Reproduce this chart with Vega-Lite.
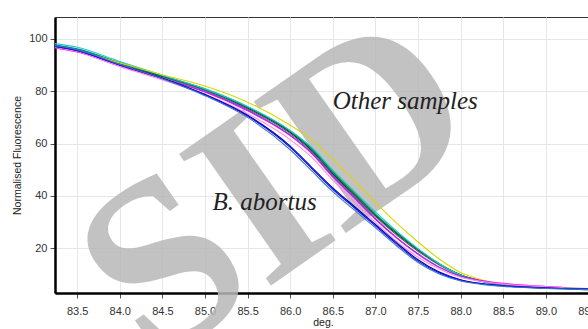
{
  "$schema": "https://vega.github.io/schema/vega-lite/v6.json",
  "width": 536,
  "height": 276,
  "autosize": {"type": "none"},
  "padding": {"left": 55, "top": 17, "right": 10, "bottom": 36},
  "background": "white",
  "config": {
    "view": {"stroke": "#333333", "strokeWidth": 1},
    "axis": {
      "labelFont": "Liberation Sans",
      "titleFont": "Liberation Sans",
      "labelFontSize": 11,
      "titleFontSize": 10.5,
      "titleFontWeight": "normal",
      "labelColor": "#333333",
      "titleColor": "#222222",
      "gridColor": "#e6e6e6",
      "gridWidth": 1,
      "tickColor": "#555555",
      "tickSize": 5,
      "domainColor": "#000000",
      "domainWidth": 2.5
    }
  },
  "datasets": {
    "curves": [
      {"s":"black","x":83.24,"y":97.3},{"s":"black","x":83.5,"y":95.8},{"s":"black","x":84.0,"y":90.6},{"s":"black","x":84.5,"y":85.6},{"s":"black","x":85.0,"y":80.6},{"s":"black","x":85.5,"y":73.6},{"s":"black","x":86.0,"y":64.3},{"s":"black","x":86.25,"y":57.5},{"s":"black","x":86.5,"y":48.5},{"s":"black","x":86.75,"y":40.5},{"s":"black","x":87.0,"y":32.5},{"s":"black","x":87.25,"y":25.5},{"s":"black","x":87.5,"y":19.2},{"s":"black","x":87.75,"y":13.8},{"s":"black","x":88.0,"y":9.7},{"s":"black","x":88.25,"y":7.4},{"s":"black","x":88.5,"y":6.0},{"s":"black","x":89.0,"y":4.9},{"s":"black","x":89.5,"y":4.4},
      {"s":"gray","x":83.24,"y":97.1},{"s":"gray","x":83.5,"y":95.6},{"s":"gray","x":84.0,"y":90.3},{"s":"gray","x":84.5,"y":85.4},{"s":"gray","x":85.0,"y":80.3},{"s":"gray","x":85.5,"y":73.2},{"s":"gray","x":86.0,"y":63.8},{"s":"gray","x":86.25,"y":57.0},{"s":"gray","x":86.5,"y":48.0},{"s":"gray","x":86.75,"y":40.0},{"s":"gray","x":87.0,"y":32.0},{"s":"gray","x":87.25,"y":25.0},{"s":"gray","x":87.5,"y":18.8},{"s":"gray","x":87.75,"y":13.5},{"s":"gray","x":88.0,"y":9.5},{"s":"gray","x":88.25,"y":7.3},{"s":"gray","x":88.5,"y":5.9},{"s":"gray","x":89.0,"y":4.8},{"s":"gray","x":89.5,"y":4.3},
      {"s":"green","x":83.24,"y":97.5},{"s":"green","x":83.5,"y":95.9},{"s":"green","x":84.0,"y":90.8},{"s":"green","x":84.5,"y":85.9},{"s":"green","x":85.0,"y":80.9},{"s":"green","x":85.5,"y":74.0},{"s":"green","x":86.0,"y":64.8},{"s":"green","x":86.25,"y":58.2},{"s":"green","x":86.5,"y":49.2},{"s":"green","x":86.75,"y":41.2},{"s":"green","x":87.0,"y":33.0},{"s":"green","x":87.25,"y":26.0},{"s":"green","x":87.5,"y":19.6},{"s":"green","x":87.75,"y":14.0},{"s":"green","x":88.0,"y":9.8},{"s":"green","x":88.25,"y":7.4},{"s":"green","x":88.5,"y":5.9},{"s":"green","x":89.0,"y":4.7},{"s":"green","x":89.5,"y":4.0},
      {"s":"teal","x":83.24,"y":97.8},{"s":"teal","x":83.5,"y":96.2},{"s":"teal","x":84.0,"y":90.9},{"s":"teal","x":84.5,"y":85.8},{"s":"teal","x":85.0,"y":80.7},{"s":"teal","x":85.5,"y":73.8},{"s":"teal","x":86.0,"y":64.6},{"s":"teal","x":86.25,"y":57.8},{"s":"teal","x":86.5,"y":48.8},{"s":"teal","x":86.75,"y":40.8},{"s":"teal","x":87.0,"y":32.8},{"s":"teal","x":87.25,"y":25.8},{"s":"teal","x":87.5,"y":19.4},{"s":"teal","x":87.75,"y":13.9},{"s":"teal","x":88.0,"y":9.7},{"s":"teal","x":88.25,"y":7.3},{"s":"teal","x":88.5,"y":5.9},{"s":"teal","x":89.0,"y":4.8},{"s":"teal","x":89.5,"y":4.3},
      {"s":"cyan","x":83.24,"y":98.2},{"s":"cyan","x":83.5,"y":96.8},{"s":"cyan","x":84.0,"y":91.4},{"s":"cyan","x":84.5,"y":86.1},{"s":"cyan","x":85.0,"y":80.9},{"s":"cyan","x":85.5,"y":74.2},{"s":"cyan","x":86.0,"y":65.0},{"s":"cyan","x":86.25,"y":58.6},{"s":"cyan","x":86.5,"y":49.8},{"s":"cyan","x":86.75,"y":41.8},{"s":"cyan","x":87.0,"y":33.8},{"s":"cyan","x":87.25,"y":26.5},{"s":"cyan","x":87.5,"y":19.8},{"s":"cyan","x":87.75,"y":14.0},{"s":"cyan","x":88.0,"y":9.6},{"s":"cyan","x":88.25,"y":7.1},{"s":"cyan","x":88.5,"y":5.6},{"s":"cyan","x":89.0,"y":4.6},{"s":"cyan","x":89.5,"y":4.3},
      {"s":"yellow","x":83.24,"y":97.0},{"s":"yellow","x":83.5,"y":95.5},{"s":"yellow","x":84.0,"y":90.8},{"s":"yellow","x":84.5,"y":86.3},{"s":"yellow","x":85.0,"y":82.0},{"s":"yellow","x":85.5,"y":75.8},{"s":"yellow","x":86.0,"y":67.0},{"s":"yellow","x":86.25,"y":61.5},{"s":"yellow","x":86.5,"y":54.0},{"s":"yellow","x":86.75,"y":46.0},{"s":"yellow","x":87.0,"y":37.5},{"s":"yellow","x":87.25,"y":29.5},{"s":"yellow","x":87.5,"y":22.3},{"s":"yellow","x":87.75,"y":15.8},{"s":"yellow","x":88.0,"y":10.6},{"s":"yellow","x":88.25,"y":7.8},{"s":"yellow","x":88.5,"y":6.2},{"s":"yellow","x":89.0,"y":5.0},{"s":"yellow","x":89.5,"y":4.5},
      {"s":"magenta","x":83.24,"y":96.6},{"s":"magenta","x":83.5,"y":95.0},{"s":"magenta","x":84.0,"y":89.6},{"s":"magenta","x":84.5,"y":84.8},{"s":"magenta","x":85.0,"y":79.7},{"s":"magenta","x":85.5,"y":72.5},{"s":"magenta","x":86.0,"y":63.0},{"s":"magenta","x":86.25,"y":56.2},{"s":"magenta","x":86.5,"y":47.2},{"s":"magenta","x":86.75,"y":39.2},{"s":"magenta","x":87.0,"y":31.0},{"s":"magenta","x":87.25,"y":23.8},{"s":"magenta","x":87.5,"y":17.6},{"s":"magenta","x":87.75,"y":12.6},{"s":"magenta","x":88.0,"y":9.2},{"s":"magenta","x":88.25,"y":7.6},{"s":"magenta","x":88.5,"y":6.5},{"s":"magenta","x":89.0,"y":5.3},{"s":"magenta","x":89.2,"y":5.0},
      {"s":"purple","x":83.24,"y":97.0},{"s":"purple","x":83.5,"y":95.3},{"s":"purple","x":84.0,"y":89.9},{"s":"purple","x":84.5,"y":85.0},{"s":"purple","x":85.0,"y":79.9},{"s":"purple","x":85.5,"y":72.8},{"s":"purple","x":86.0,"y":63.2},{"s":"purple","x":86.25,"y":56.5},{"s":"purple","x":86.5,"y":47.5},{"s":"purple","x":86.75,"y":39.5},{"s":"purple","x":87.0,"y":31.2},{"s":"purple","x":87.25,"y":24.0},{"s":"purple","x":87.5,"y":17.8},{"s":"purple","x":87.75,"y":12.7},{"s":"purple","x":88.0,"y":9.2},{"s":"purple","x":88.25,"y":7.3},{"s":"purple","x":88.5,"y":6.1},{"s":"purple","x":89.0,"y":5.0},{"s":"purple","x":89.5,"y":4.5},
      {"s":"pink","x":83.24,"y":96.8},{"s":"pink","x":83.5,"y":95.2},{"s":"pink","x":84.0,"y":89.5},{"s":"pink","x":84.5,"y":84.3},{"s":"pink","x":85.0,"y":78.8},{"s":"pink","x":85.5,"y":71.4},{"s":"pink","x":86.0,"y":61.5},{"s":"pink","x":86.25,"y":54.8},{"s":"pink","x":86.5,"y":46.0},{"s":"pink","x":86.75,"y":37.8},{"s":"pink","x":87.0,"y":29.8},{"s":"pink","x":87.25,"y":22.5},{"s":"pink","x":87.5,"y":16.5},{"s":"pink","x":87.75,"y":12.0},{"s":"pink","x":88.0,"y":8.8},{"s":"pink","x":88.25,"y":7.2},{"s":"pink","x":88.5,"y":6.2},{"s":"pink","x":89.0,"y":5.2},{"s":"pink","x":89.2,"y":4.9},
      {"s":"navy","x":83.24,"y":97.2},{"s":"navy","x":83.5,"y":95.6},{"s":"navy","x":84.0,"y":90.1},{"s":"navy","x":84.5,"y":85.0},{"s":"navy","x":85.0,"y":78.8},{"s":"navy","x":85.5,"y":70.8},{"s":"navy","x":86.0,"y":59.0},{"s":"navy","x":86.25,"y":51.0},{"s":"navy","x":86.5,"y":43.0},{"s":"navy","x":86.75,"y":36.0},{"s":"navy","x":87.0,"y":29.0},{"s":"navy","x":87.25,"y":22.0},{"s":"navy","x":87.5,"y":15.5},{"s":"navy","x":87.75,"y":10.8},{"s":"navy","x":88.0,"y":7.9},{"s":"navy","x":88.25,"y":6.4},{"s":"navy","x":88.5,"y":5.6},{"s":"navy","x":89.0,"y":4.7},{"s":"navy","x":89.5,"y":4.3},
      {"s":"blue","x":83.24,"y":97.0},{"s":"blue","x":83.5,"y":95.5},{"s":"blue","x":84.0,"y":90.0},{"s":"blue","x":84.5,"y":84.9},{"s":"blue","x":85.0,"y":78.6},{"s":"blue","x":85.5,"y":70.5},{"s":"blue","x":86.0,"y":58.5},{"s":"blue","x":86.25,"y":50.5},{"s":"blue","x":86.5,"y":42.5},{"s":"blue","x":86.75,"y":35.5},{"s":"blue","x":87.0,"y":28.5},{"s":"blue","x":87.25,"y":21.5},{"s":"blue","x":87.5,"y":15.0},{"s":"blue","x":87.75,"y":10.5},{"s":"blue","x":88.0,"y":7.7},{"s":"blue","x":88.25,"y":6.3},{"s":"blue","x":88.5,"y":5.5},{"s":"blue","x":89.0,"y":4.7},{"s":"blue","x":89.5,"y":4.3},
      {"s":"steel","x":83.24,"y":97.4},{"s":"steel","x":83.5,"y":95.9},{"s":"steel","x":84.0,"y":90.3},{"s":"steel","x":84.5,"y":84.8},{"s":"steel","x":85.0,"y":78.3},{"s":"steel","x":85.5,"y":70.0},{"s":"steel","x":86.0,"y":57.6},{"s":"steel","x":86.25,"y":49.6},{"s":"steel","x":86.5,"y":41.6},{"s":"steel","x":86.75,"y":34.6},{"s":"steel","x":87.0,"y":27.8},{"s":"steel","x":87.25,"y":20.8},{"s":"steel","x":87.5,"y":14.5},{"s":"steel","x":87.75,"y":10.1},{"s":"steel","x":88.0,"y":7.4},{"s":"steel","x":88.25,"y":6.1},{"s":"steel","x":88.5,"y":5.3},{"s":"steel","x":89.0,"y":4.5},{"s":"steel","x":89.5,"y":4.2}
    ],
    "labels": [
      {"x": 87.35, "y": 76.2, "t": "Other samples"},
      {"x": 85.70, "y": 37.5, "t": "B. abortus"}
    ],
    "mark": [
      {"x": 85.85, "y": 42, "t": "SID"}
    ]
  },
  "layer": [
    {
      "data": {"name": "mark"},
      "mark": {"type": "text", "font": "Liberation Serif", "fontWeight": "bold", "fontSize": 245, "angle": 325, "align": "center", "baseline": "middle", "color": "#b8b8b8", "opacity": 0.85},
      "encoding": {
        "x": {"field": "x", "type": "quantitative", "scale": {"domain": [83.24, 89.53], "nice": false, "zero": false},
          "axis": {"title": "deg.", "values": [83.5,84.0,84.5,85.0,85.5,86.0,86.5,87.0,87.5,88.0,88.5,89.0,89.5], "format": ".1f", "labelPadding": 7, "titlePadding": 1, "labelFlush": false, "labelOverlap": false}},
        "y": {"field": "y", "type": "quantitative", "scale": {"domain": [2.8, 108.4], "nice": false, "zero": false},
          "axis": {"title": "Normalised Fluorescence", "values": [20, 40, 60, 80, 100], "labelPadding": 3, "titlePadding": 6}},
        "text": {"field": "t"}
      }
    },
    {
      "data": {"name": "curves"},
      "mark": {"type": "line", "interpolate": "monotone", "strokeWidth": 1.1, "clip": true},
      "encoding": {
        "x": {"field": "x", "type": "quantitative"},
        "y": {"field": "y", "type": "quantitative"},
        "color": {"field": "s", "type": "nominal", "legend": null,
          "scale": {"domain": ["steel","navy","blue","pink","purple","magenta","gray","teal","cyan","green","yellow","black"],
                    "range": ["#3c78c0","#000090","#1010ff","#ff8ce0","#9030e0","#ff00ff","#606060","#008080","#20c8c8","#00a000","#d8d800","#000000"]}}
      }
    },
    {
      "data": {"name": "labels"},
      "mark": {"type": "text", "font": "Liberation Serif", "fontStyle": "italic", "fontSize": 25, "align": "center", "baseline": "middle", "color": "#222222"},
      "encoding": {
        "x": {"field": "x", "type": "quantitative"},
        "y": {"field": "y", "type": "quantitative"},
        "text": {"field": "t"}
      }
    }
  ]
}
